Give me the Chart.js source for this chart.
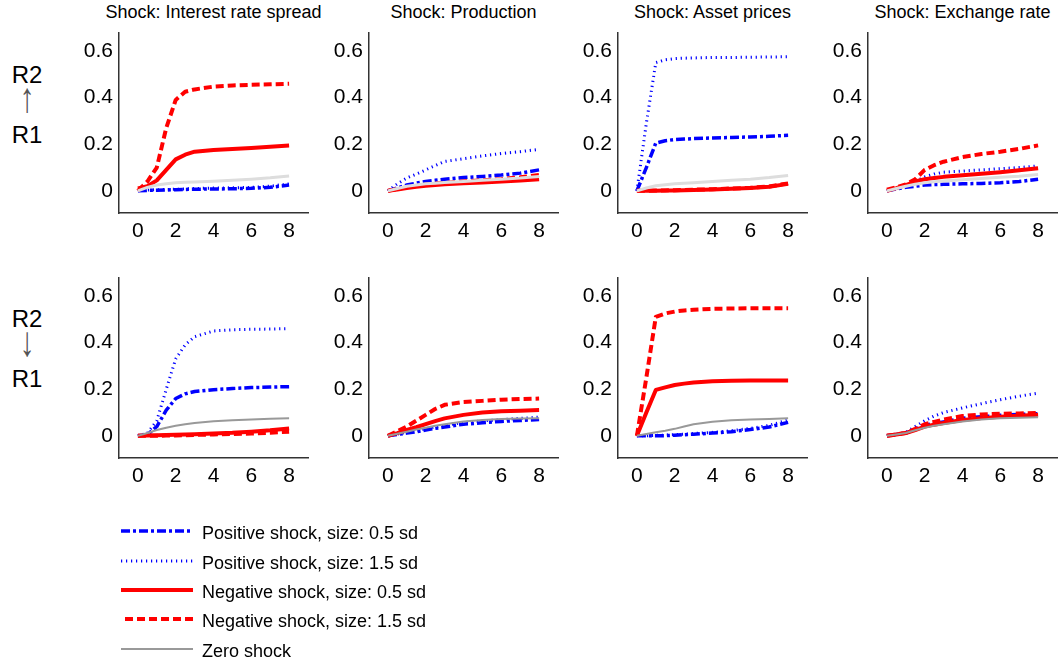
<!DOCTYPE html>
<html>
<head>
<meta charset="utf-8">
<script src="https://cdn.jsdelivr.net/npm/chart.js@4.4.1/dist/chart.umd.min.js"></script>
<style>
body{margin:0;background:#fff;width:1059px;height:666px;position:relative;overflow:hidden;font-family:"Liberation Sans",Arial,sans-serif;color:#000}
canvas{position:absolute}
.title{position:absolute;top:0;width:260px;font-size:18px;line-height:24px;text-align:center;white-space:nowrap}
.rowlab{position:absolute;left:0;width:54px;text-align:center;font-size:24px;line-height:24px}
.arrow{position:absolute;left:0;width:54px;text-align:center;font-size:30px;line-height:32px;color:#555;font-family:"Liberation Sans",Arial,sans-serif;transform:scaleY(1.4)}
.legtext{position:absolute;left:202px;font-size:18px;line-height:20px;white-space:nowrap}
svg{position:absolute;left:0;top:0}
</style>
</head>
<body>
<script>
var horizons = [0, 0.5, 1, 1.5, 2, 2.5, 3, 4, 5, 6, 7, 8];
var xTicks = [0, 2, 4, 6, 8];
var yTicks = [0, 0.2, 0.4, 0.6];
var shockTitles = ['Shock: Interest rate spread', 'Shock: Production', 'Shock: Asset prices', 'Shock: Exchange rate'];
var seriesNames = ['Positive shock, size: 0.5 sd', 'Positive shock, size: 1.5 sd', 'Negative shock, size: 0.5 sd', 'Negative shock, size: 1.5 sd', 'Zero shock'];

// top row: R2 -> R1 (up), one array per shock
var upPos05 = [
  [0, 0.002, 0.003, 0.004, 0.005, 0.006, 0.007, 0.008, 0.009, 0.011, 0.015, 0.025],
  [0, 0.012, 0.025, 0.033, 0.04, 0.045, 0.05, 0.057, 0.062, 0.068, 0.076, 0.09],
  [0, 0.1, 0.205, 0.215, 0.22, 0.222, 0.224, 0.227, 0.229, 0.231, 0.234, 0.238],
  [0, 0.008, 0.015, 0.02, 0.025, 0.027, 0.028, 0.03, 0.032, 0.035, 0.04, 0.05]
];
var upPos15 = [
  [0, 0.003, 0.005, 0.006, 0.007, 0.008, 0.01, 0.012, 0.013, 0.015, 0.02, 0.03],
  [0, 0.03, 0.055, 0.072, 0.09, 0.108, 0.126, 0.138, 0.15, 0.16, 0.168, 0.178],
  [0, 0.29, 0.55, 0.562, 0.567, 0.569, 0.57, 0.572, 0.572, 0.573, 0.574, 0.575],
  [0, 0.012, 0.025, 0.04, 0.06, 0.072, 0.08, 0.085, 0.09, 0.095, 0.1, 0.107]
];
var upNeg05 = [
  [0.01, 0.02, 0.045, 0.09, 0.135, 0.155, 0.168, 0.175, 0.18, 0.184, 0.189, 0.194],
  [0, 0.006, 0.012, 0.017, 0.022, 0.025, 0.028, 0.033, 0.036, 0.04, 0.044, 0.05],
  [0, 0, 0, 0.001, 0.002, 0.003, 0.004, 0.006, 0.009, 0.012, 0.018, 0.03],
  [0, 0.012, 0.025, 0.04, 0.05, 0.055, 0.06, 0.067, 0.073, 0.08, 0.088, 0.097]
];
var upNeg15 = [
  [0, 0.04, 0.1, 0.27, 0.39, 0.425, 0.435, 0.447, 0.452, 0.455, 0.457, 0.459],
  [0, 0.008, 0.015, 0.021, 0.027, 0.031, 0.034, 0.04, 0.045, 0.05, 0.058, 0.068],
  [0, 0, 0.001, 0.002, 0.003, 0.004, 0.005, 0.007, 0.01, 0.013, 0.019, 0.032],
  [0.005, 0.015, 0.028, 0.05, 0.09, 0.11, 0.125, 0.145, 0.158, 0.168, 0.18, 0.195]
];
var upZero = [
  [0, 0.015, 0.025, 0.03, 0.035, 0.037, 0.038, 0.041, 0.045, 0.05, 0.056, 0.064],
  [0, 0.01, 0.02, 0.025, 0.03, 0.033, 0.036, 0.04, 0.045, 0.05, 0.055, 0.062],
  [0, 0.012, 0.022, 0.026, 0.03, 0.033, 0.035, 0.04, 0.045, 0.05, 0.057, 0.066],
  [0, 0.01, 0.02, 0.028, 0.035, 0.039, 0.042, 0.048, 0.053, 0.058, 0.063, 0.07]
];

// bottom row: R2 -> R1 (down)
var downPos05 = [
  [0, 0.005, 0.04, 0.11, 0.16, 0.18, 0.19, 0.198, 0.203, 0.207, 0.209, 0.211],
  [0, 0.006, 0.012, 0.018, 0.025, 0.032, 0.038, 0.05, 0.056, 0.062, 0.066, 0.07],
  [0, 0, 0, 0.001, 0.003, 0.005, 0.007, 0.012, 0.018, 0.027, 0.038, 0.058],
  [0, 0.006, 0.012, 0.028, 0.045, 0.053, 0.06, 0.075, 0.082, 0.088, 0.092, 0.095]
];
var downPos15 = [
  [0, 0.011, 0.065, 0.2, 0.33, 0.39, 0.425, 0.45, 0.455, 0.457, 0.458, 0.46],
  [0, 0.008, 0.015, 0.022, 0.03, 0.038, 0.045, 0.057, 0.064, 0.07, 0.075, 0.08],
  [0, 0, 0.002, 0.003, 0.005, 0.007, 0.01, 0.015, 0.022, 0.032, 0.045, 0.068],
  [0, 0.008, 0.015, 0.04, 0.065, 0.085, 0.1, 0.12, 0.138, 0.155, 0.17, 0.183]
];
var downNeg05 = [
  [0, 0.001, 0.003, 0.004, 0.005, 0.006, 0.007, 0.01, 0.013, 0.018, 0.024, 0.032],
  [0, 0.012, 0.025, 0.037, 0.05, 0.063, 0.075, 0.09, 0.1, 0.105, 0.108, 0.111],
  [0, 0.1, 0.197, 0.208, 0.218, 0.224, 0.229, 0.234, 0.236, 0.237, 0.237, 0.237],
  [0, 0.006, 0.012, 0.025, 0.04, 0.048, 0.055, 0.068, 0.076, 0.082, 0.086, 0.09]
];
var downNeg15 = [
  [0, 0, 0, 0.001, 0.002, 0.003, 0.004, 0.006, 0.008, 0.01, 0.013, 0.018],
  [0, 0.02, 0.04, 0.065, 0.09, 0.115, 0.133, 0.145, 0.15, 0.155, 0.158, 0.16],
  [0, 0.25, 0.51, 0.525, 0.533, 0.538, 0.541, 0.545, 0.546, 0.547, 0.547, 0.547],
  [0, 0.006, 0.012, 0.03, 0.05, 0.06, 0.07, 0.085, 0.092, 0.095, 0.096, 0.098]
];
var downZero = [
  [0, 0.012, 0.025, 0.035, 0.043, 0.05, 0.055, 0.063, 0.067, 0.07, 0.073, 0.076],
  [0, 0.009, 0.018, 0.027, 0.035, 0.043, 0.05, 0.062, 0.068, 0.072, 0.074, 0.075],
  [0, 0.008, 0.015, 0.022, 0.03, 0.04, 0.05, 0.06, 0.067, 0.07, 0.072, 0.075],
  [0, 0.006, 0.012, 0.024, 0.035, 0.043, 0.05, 0.062, 0.07, 0.075, 0.078, 0.08]
];

var styles = [
  {color: '#0000ff', width: 3.5, dash: [9, 3, 3, 3]},
  {color: '#0000ff', width: 3, dash: [1.2, 3.8]},
  {color: '#ff0000', width: 4, dash: []},
  {color: '#ff0000', width: 4, dash: [8, 4]},
  {color: '#999999', width: 2, dash: []}
];
var plotLeft = [119, 369, 618, 868];
var plotTop = [33, 278];
var fontFam = '"Liberation Sans", Arial, sans-serif';

const toPoints = (vals) => horizons.map((h, i) => ({x: h, y: vals[i]}));

const drawPanel = (row, col) => {
  var cv = document.createElement('canvas');
  cv.width = 261; cv.height = 226;
  cv.style.left = (plotLeft[col] - 70) + 'px';
  cv.style.top = (plotTop[row] - 6) + 'px';
  cv.style.width = '261px'; cv.style.height = '226px';
  document.body.appendChild(cv);

  var src = row == 0 ? [upPos05, upPos15, upNeg05, upNeg15, upZero]
                     : [downPos05, downPos15, downNeg05, downNeg15, downZero];
  var datasets = src.map((s, k) => {
    var st = styles[k];
    var color = st.color, width = st.width;
    if (k == 4 && row == 0) { color = '#dddddd'; width = 3; }
    return {
      label: seriesNames[k],
      data: toPoints(s[col]),
      borderColor: color,
      borderWidth: width,
      borderDash: st.dash,
      borderCapStyle: 'butt',
      borderJoinStyle: 'round',
      pointRadius: 0,
      fill: false,
      tension: 0,
      order: 5 - k
    };
  });

  new Chart(cv, {
    type: 'line',
    data: {datasets: datasets},
    options: {
      responsive: false,
      animation: false,
      events: [],
      layout: {padding: {top: 6, right: 2, left: 0, bottom: 0}},
      plugins: {legend: {display: false}, tooltip: {enabled: false}},
      scales: {
        x: {
          type: 'linear', min: -1, max: 9,
          grid: {display: false, drawTicks: false},
          border: {display: true, color: '#333', width: 1.5},
          ticks: {font: {size: 21, family: fontFam}, color: '#000', padding: 6, maxRotation: 0, autoSkip: false,
                  callback: v => String(v)},
          afterBuildTicks: s => { s.ticks = xTicks.map(v => ({value: v})); },
          afterFit: s => { s.height = 40; s.paddingLeft = 0; s.paddingRight = 0; }
        },
        y: {
          min: -0.095, max: 0.677,
          grid: {display: false, drawTicks: false},
          border: {display: true, color: '#333', width: 1.5},
          ticks: {font: {size: 21, family: fontFam}, color: '#000', padding: 6,
                  callback: v => v == 0 ? '0' : v.toFixed(1)},
          afterBuildTicks: s => { s.ticks = yTicks.map(v => ({value: v})); },
          afterFit: s => { s.width = 70; s.paddingTop = 0; s.paddingBottom = 0; }
        }
      }
    }
  });
};

// titles
shockTitles.forEach((t, c) => {
  var d = document.createElement('div');
  d.className = 'title';
  d.style.left = (plotLeft[c] + 94.5 - 130) + 'px';
  d.textContent = t;
  document.body.appendChild(d);
});

// row labels
const rowLabel = (top, arrow) => {
  var a = document.createElement('div');
  a.className = 'rowlab'; a.style.top = top + 'px'; a.textContent = 'R2';
  document.body.appendChild(a);
  var b = document.createElement('div');
  b.className = 'arrow'; b.style.top = (top + 19) + 'px'; b.textContent = arrow;
  document.body.appendChild(b);
  var c = document.createElement('div');
  c.className = 'rowlab'; c.style.top = (top + 60) + 'px'; c.textContent = 'R1';
  document.body.appendChild(c);
};
rowLabel(62.5, '\u2191');
rowLabel(307, '\u2193');

for (var r = 0; r < 2; r++) {
  for (var c = 0; c < 4; c++) drawPanel(r, c);
}

// legend
var legY = [531, 561, 590, 619, 649];
var svgNS = 'http://www.w3.org/2000/svg';
var svg = document.createElementNS(svgNS, 'svg');
svg.setAttribute('width', 1059); svg.setAttribute('height', 666);
document.body.appendChild(svg);
seriesNames.forEach((name, k) => {
  var st = styles[k];
  var ln = document.createElementNS(svgNS, 'line');
  ln.setAttribute('x1', k == 3 ? 125 : 121); ln.setAttribute('x2', 193);
  ln.setAttribute('y1', legY[k]); ln.setAttribute('y2', legY[k]);
  ln.setAttribute('stroke', st.color);
  ln.setAttribute('stroke-width', st.width);
  if (st.dash.length) ln.setAttribute('stroke-dasharray', st.dash.join(' '));
  svg.appendChild(ln);
  var t = document.createElement('div');
  t.className = 'legtext';
  t.style.top = (legY[k] - 8) + 'px';
  t.textContent = name;
  document.body.appendChild(t);
});
</script>
</body>
</html>
